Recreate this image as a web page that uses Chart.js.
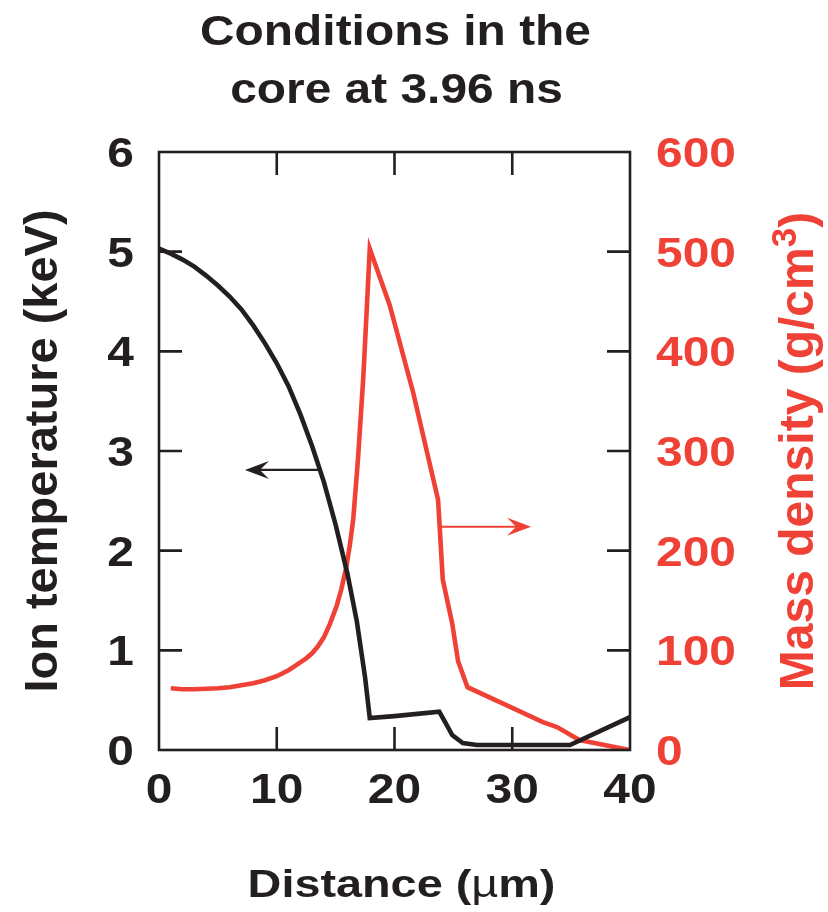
<!DOCTYPE html>
<html>
<head>
<meta charset="utf-8">
<title>Conditions in the core at 3.96 ns</title>
<script src="https://cdn.jsdelivr.net/npm/chart.js@4.4.1/dist/chart.umd.min.js"></script>
<style>
  html, body { margin: 0; padding: 0; background: #fff; }
  #wrap { width: 828px; height: 912px; }
</style>
</head>
<body>
<div id="wrap"><canvas id="coreChart" width="828" height="912"></canvas></div>
<script>
// Ion temperature (keV) along the radius
const tempX   = [0, 1, 2, 3, 4, 5, 6, 7, 8, 9, 10, 11, 12, 13, 14, 15, 16, 16.8, 17.5, 17.9, 20, 23.8, 24.3, 24.9, 25.8, 27.0, 34.9, 40];
const tempKeV = [5.03, 4.98, 4.92, 4.85, 4.76, 4.66, 4.55, 4.42, 4.26, 4.08, 3.88, 3.65, 3.37, 3.05, 2.69, 2.26, 1.77, 1.29, 0.73, 0.32, 0.34, 0.385, 0.28, 0.15, 0.07, 0.05, 0.05, 0.33];

// Mass density (g/cm3) along the radius
const densX   = [1, 2, 3, 4, 5, 6, 7, 8, 9, 10, 11, 11.5, 12, 12.5, 13, 13.5, 14, 14.5, 15.1, 15.5, 15.9, 16.2, 16.5, 16.9, 17.35, 17.6, 17.9, 19.6, 21.6, 23.7, 24.1, 24.9, 25.4, 26.2, 29.5, 32.6, 33.8, 35.7, 40];
const densGcc = [62, 61, 61, 61.5, 62, 63, 65, 67, 70, 74, 80, 84, 88, 92, 97, 104, 113, 126, 145, 162, 183, 205, 232, 292, 374, 432, 503, 446, 358, 251, 171, 127, 89, 63, 45, 28, 23, 10, 0];

const xTicks    = [0, 10, 20, 30, 40];
const tempTicks = [0, 1, 2, 3, 4, 5, 6];
const densTicks = [0, 100, 200, 300, 400, 500, 600];

const titleLines = ['Conditions in the', 'core at 3.96 ns'];

// arrows telling which axis a curve uses: [from x, to x, level on that curve's axis]
const tempArrow = [13.7, 7.3, 2.81];
const densArrow = [24.0, 31.6, 224];

const INK = '#231f20';
const RED = '#ef4136';
const FAMILY = '"Liberation Sans", Arial, sans-serif';

function fixedTicks(list) {
    return function(scale) {
        scale.ticks = list.map(v => ({ value: v }));
    };
}

// bold lettering set a little wide, the way the figure's labels are
function wideText(ctx, parts, x, y, align, stretch, color) {
    ctx.save();
    ctx.fillStyle = color;
    ctx.textBaseline = 'alphabetic';
    ctx.textAlign = 'left';
    let w = 0;
    parts.forEach(p => { ctx.font = p.font; w += ctx.measureText(p.text).width; });
    w *= stretch;
    let start = x;
    if (align === 'center') start = x - w / 2;
    if (align === 'right') start = x - w;
    ctx.translate(start, y);
    ctx.scale(stretch, 1);
    let cx = 0;
    parts.forEach(p => {
        ctx.font = p.font;
        ctx.fillText(p.text, cx, 0);
        cx += ctx.measureText(p.text).width;
    });
    ctx.restore();
}

const labelPlugin = {
    id: 'labels',
    afterDraw(chart) {
        const { ctx, chartArea: a, scales } = chart;
        const tickFont = 'bold 42px ' + FAMILY;
        const mid = (a.left + a.right) / 2;

        wideText(ctx, [{ text: titleLines[0], font: 'bold 42px ' + FAMILY }], mid + 1, 45, 'center', 1.14, INK);
        wideText(ctx, [{ text: titleLines[1], font: 'bold 42px ' + FAMILY }], mid + 2, 103, 'center', 1.14, INK);

        xTicks.forEach(v => {
            wideText(ctx, [{ text: String(v), font: tickFont }], scales.x.getPixelForValue(v), a.bottom + 53, 'center', 1.14, INK);
        });
        tempTicks.forEach(v => {
            wideText(ctx, [{ text: String(v), font: tickFont }], a.left - 25, scales.y.getPixelForValue(v) + 15, 'right', 1.14, INK);
        });
        densTicks.forEach(v => {
            wideText(ctx, [{ text: String(v), font: tickFont }], a.right + 26, scales.y1.getPixelForValue(v) + 15, 'left', 1.14, RED);
        });

        wideText(ctx, [
            { text: 'Distance (', font: 'bold 39px ' + FAMILY },
            { text: 'µ', font: '39px ' + FAMILY },
            { text: 'm)', font: 'bold 39px ' + FAMILY }
        ], mid + 7, 897, 'center', 1.2, INK);

        // right axis title with a raised cube
        const big = 'bold 48px ' + FAMILY;
        const small = 'bold 35px ' + FAMILY;
        const parts = [['Mass density (g/cm', big, 0], ['3', small, -17], [')', big, 0]];
        ctx.save();
        let total = 0;
        parts.forEach(p => { ctx.font = p[1]; total += ctx.measureText(p[0]).width; });
        ctx.translate(scales.y1.right - 15, (a.top + a.bottom) / 2);
        ctx.rotate(-Math.PI / 2);
        ctx.fillStyle = RED;
        ctx.textBaseline = 'alphabetic';
        let x = -total / 2;
        parts.forEach(p => {
            ctx.font = p[1];
            ctx.fillText(p[0], x, p[2]);
            x += ctx.measureText(p[0]).width;
        });
        ctx.restore();
    }
};

// frame round the plot with short ticks pointing inwards
const framePlugin = {
    id: 'frame',
    afterDatasetsDraw(chart) {
        const { ctx, chartArea: a, scales } = chart;
        const len = 23;
        ctx.save();
        ctx.strokeStyle = INK;
        ctx.lineWidth = 2.6;
        ctx.lineCap = 'butt';
        ctx.strokeRect(a.left, a.top, a.right - a.left, a.bottom - a.top);
        ctx.beginPath();
        xTicks.slice(1, -1).forEach(v => {
            const px = scales.x.getPixelForValue(v);
            ctx.moveTo(px, a.bottom); ctx.lineTo(px, a.bottom - len);
            ctx.moveTo(px, a.top); ctx.lineTo(px, a.top + len);
        });
        tempTicks.slice(1, -1).forEach(v => {
            const py = scales.y.getPixelForValue(v);
            ctx.moveTo(a.left, py); ctx.lineTo(a.left + len, py);
        });
        densTicks.slice(1, -1).forEach(v => {
            const py = scales.y1.getPixelForValue(v);
            ctx.moveTo(a.right, py); ctx.lineTo(a.right - len, py);
        });
        ctx.stroke();
        ctx.restore();
    }
};

function drawArrow(ctx, x1, x2, py, color) {
    const dir = x2 > x1 ? 1 : -1;
    const headLen = 24, halfW = 9, notch = 15;
    ctx.save();
    ctx.strokeStyle = color;
    ctx.fillStyle = color;
    ctx.lineWidth = 2.2;
    ctx.beginPath();
    ctx.moveTo(x1, py);
    ctx.lineTo(x2 - dir * notch, py);
    ctx.stroke();
    ctx.beginPath();
    ctx.moveTo(x2, py);
    ctx.lineTo(x2 - dir * headLen, py - halfW);
    ctx.lineTo(x2 - dir * notch, py);
    ctx.lineTo(x2 - dir * headLen, py + halfW);
    ctx.closePath();
    ctx.fill();
    ctx.restore();
}

const arrowPlugin = {
    id: 'arrows',
    afterDatasetsDraw(chart) {
        const { ctx, scales } = chart;
        drawArrow(ctx, scales.x.getPixelForValue(tempArrow[0]), scales.x.getPixelForValue(tempArrow[1]),
                  scales.y.getPixelForValue(tempArrow[2]), INK);
        drawArrow(ctx, scales.x.getPixelForValue(densArrow[0]), scales.x.getPixelForValue(densArrow[1]),
                  scales.y1.getPixelForValue(densArrow[2]), RED);
    }
};

new Chart(document.getElementById('coreChart'), {
    type: 'line',
    data: {
        datasets: [{
            label: 'Ion temperature',
            data: tempX.map((x, i) => ({ x: x, y: tempKeV[i] })),
            yAxisID: 'y',
            borderColor: INK,
            borderWidth: 4.6,
            pointRadius: 0,
            tension: 0,
            order: 0
        }, {
            label: 'Mass density',
            data: densX.map((x, i) => ({ x: x, y: densGcc[i] })),
            yAxisID: 'y1',
            borderColor: RED,
            borderWidth: 4.6,
            pointRadius: 0,
            tension: 0,
            order: 1
        }]
    },
    options: {
        responsive: false,
        animation: false,
        devicePixelRatio: 1,
        layout: { padding: { top: 152, left: 0, right: 0, bottom: 0 } },
        plugins: {
            legend: { display: false },
            tooltip: { enabled: false },
            title: { display: false }
        },
        scales: {
            x: {
                type: 'linear',
                min: 0,
                max: 40,
                afterBuildTicks: fixedTicks(xTicks),
                afterFit: s => { s.height = 162; },
                grid: { display: false },
                border: { display: false },
                ticks: { display: false }
            },
            y: {
                position: 'left',
                min: 0,
                max: 6,
                afterBuildTicks: fixedTicks(tempTicks),
                afterFit: s => { s.width = 159; },
                grid: { display: false },
                border: { display: false },
                ticks: { display: false },
                title: {
                    display: true,
                    text: 'Ion temperature (keV)',
                    color: INK,
                    font: { family: 'Liberation Sans', weight: 'bold', size: 47 },
                    padding: { top: 16, bottom: 0 }
                }
            },
            y1: {
                position: 'right',
                min: 0,
                max: 600,
                afterBuildTicks: fixedTicks(densTicks),
                afterFit: s => { s.width = 198; },
                grid: { display: false },
                border: { display: false },
                ticks: { display: false }
            }
        }
    },
    plugins: [framePlugin, arrowPlugin, labelPlugin]
});
</script>
</body>
</html>
